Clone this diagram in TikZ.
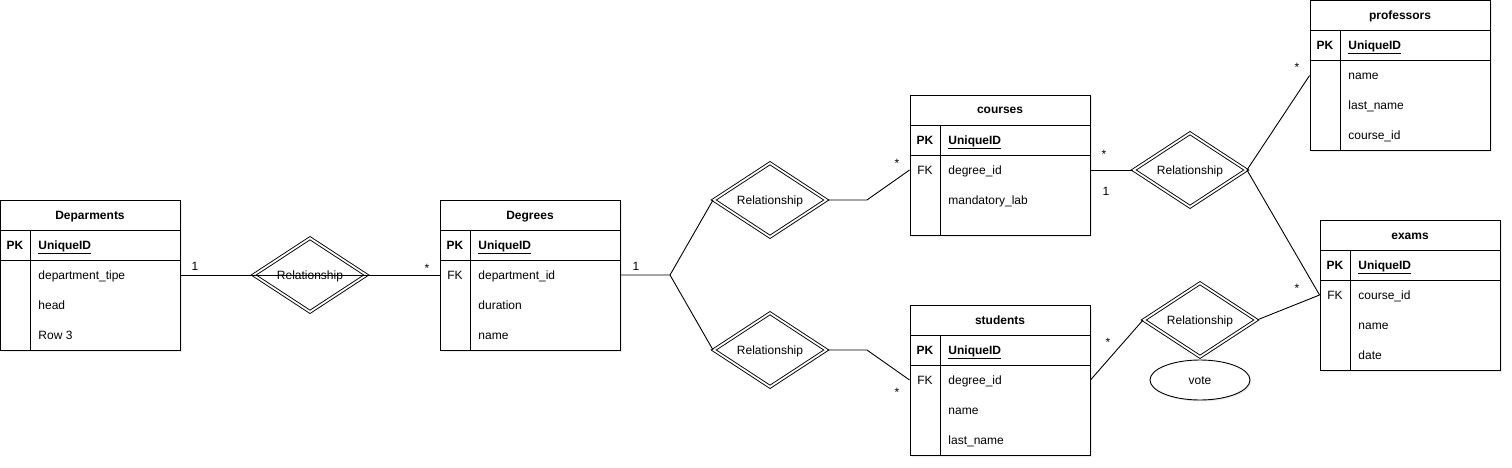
\documentclass[tikz,border=0pt]{standalone}
\usepackage{fontspec}
\setmainfont{Liberation Sans}
\usetikzlibrary{shapes.geometric,shadows}

\begin{document}
\begin{tikzpicture}[x=1pt,y=-1pt,line width=0.9pt,
    every node/.style={font=\fontsize{12}{14}\selectfont,text height=8pt,text depth=0pt},
    tcell/.style={draw,rectangle,fill=white,minimum width=180,minimum height=30,inner sep=0,
      drop shadow={shadow xshift=1.5pt,shadow yshift=-1.5pt,opacity=0.15}},
    ttitle/.style={tcell,font=\fontsize{12}{14}\selectfont\bfseries},
    keyl/.style={inner sep=0,font=\fontsize{12}{14}\selectfont\bfseries},
    attr/.style={anchor=west,inner sep=0},
    rel/.style={diamond,draw,double,double distance=1.8pt,fill=white,
      minimum width=113,minimum height=56,inner sep=0,
      drop shadow={shadow xshift=1.5pt,shadow yshift=-1.5pt,opacity=0.15}},
    card/.style={inner sep=0}]
    \useasboundingbox (0,0) rectangle (1512,468);
    % Deparments
    \node[ttitle] (dep) at (90,215) {Deparments};
    \node[tcell] (dep-pk) at (90,245) {};
    \node[tcell,minimum height=90] (dep-body) at (90,305) {};
    \draw (30,230) -- (30,350);
    \node[keyl] at (15,245) {PK};
    \node[keyl,attr] (dep-id) at (38,245) {\underline{UniqueID}};
    \node[attr] (dep-r1) at (38,275) {department\_tipe};
    \node[attr] (dep-r2) at (38,305) {head};
    \node[attr] (dep-r3) at (38,335) {Row 3};
    % Degrees
    \node[ttitle] (deg) at (530,215) {Degrees};
    \node[tcell] (deg-pk) at (530,245) {};
    \node[tcell,minimum height=90] (deg-body) at (530,305) {};
    \draw (470,230) -- (470,350);
    \node[keyl] at (455,245) {PK};
    \node[keyl,attr] (deg-id) at (478,245) {\underline{UniqueID}};
    \node[keyl,font=\fontsize{12}{14}\selectfont] at (455,275) {FK};
    \node[attr] (deg-r1) at (478,275) {department\_id};
    \node[attr] (deg-r2) at (478,305) {duration};
    \node[attr] (deg-r3) at (478,335) {name};
    % courses
    \node[ttitle] (crs) at (1000,110) {courses};
    \node[tcell] (crs-pk) at (1000,140) {};
    \node[tcell,minimum height=80] (crs-body) at (1000,195) {};
    \draw (940,125) -- (940,235);
    \node[keyl] at (925,140) {PK};
    \node[keyl,attr] (crs-id) at (948,140) {\underline{UniqueID}};
    \node[keyl,font=\fontsize{12}{14}\selectfont] at (925,170) {FK};
    \node[attr] (crs-r1) at (948,170) {degree\_id};
    \node[attr] (crs-r2) at (948,200) {mandatory\_lab};
    % students
    \node[ttitle] (stu) at (1000,320) {students};
    \node[tcell] (stu-pk) at (1000,350) {};
    \node[tcell,minimum height=90] (stu-body) at (1000,410) {};
    \draw (940,335) -- (940,455);
    \node[keyl] at (925,350) {PK};
    \node[keyl,attr] (stu-id) at (948,350) {\underline{UniqueID}};
    \node[keyl,font=\fontsize{12}{14}\selectfont] at (925,380) {FK};
    \node[attr] (stu-r1) at (948,380) {degree\_id};
    \node[attr] (stu-r2) at (948,410) {name};
    \node[attr] (stu-r3) at (948,440) {last\_name};
    % professors
    \node[ttitle] (pro) at (1400,15.5) {professors};
    \node[tcell] (pro-pk) at (1400,45.5) {};
    \node[tcell,minimum height=90] (pro-body) at (1400,105.5) {};
    \draw (1340,30.5) -- (1340,150.5);
    \node[keyl] at (1325,45.5) {PK};
    \node[keyl,attr] (pro-id) at (1348,45.5) {\underline{UniqueID}};
    \node[attr] (pro-r1) at (1348,75.5) {name};
    \node[attr] (pro-r2) at (1348,105.5) {last\_name};
    \node[attr] (pro-r3) at (1348,135.5) {course\_id};
    % exams
    \node[ttitle] (exa) at (1410,235) {exams};
    \node[tcell] (exa-pk) at (1410,265) {};
    \node[tcell,minimum height=90] (exa-body) at (1410,325) {};
    \draw (1350,250) -- (1350,370);
    \node[keyl] at (1335,265) {PK};
    \node[keyl,attr] (exa-id) at (1358,265) {\underline{UniqueID}};
    \node[keyl,font=\fontsize{12}{14}\selectfont] at (1335,295) {FK};
    \node[attr] (exa-r1) at (1358,295) {course\_id};
    \node[attr] (exa-r2) at (1358,325) {name};
    \node[attr] (exa-r3) at (1358,355) {date};
    % relationships
    \node[rel] (rel-dd) at (310,275) {Relationship};
    \node[rel] (rel-dc) at (770,200) {Relationship};
    \node[rel] (rel-ds) at (770,350) {Relationship};
    \node[rel] (rel-ce) at (1190,170) {Relationship};
    \node[rel] (rel-se) at (1200,320) {Relationship};
    \node[draw,ellipse,fill=white,minimum width=100,minimum height=40,inner sep=0,
      drop shadow={shadow xshift=1.5pt,shadow yshift=-1.5pt,opacity=0.15}] (vote) at (1200,380) {vote};
    % connectors
    \draw (dep-body.east |- dep-r1) -- (deg-body.west |- deg-r1);
    \coordinate (fork) at (670,275);
    \draw (deg-body.east |- deg-r1) -- (fork) -- (rel-dc.west);
    \draw (fork) -- (rel-ds.west);
    \draw (rel-dc.east) -- ++(40,0) -- (crs-body.west |- crs-r1);
    \draw (rel-ds.east) -- ++(40,0) -- (stu-body.west |- stu-r1);
    \draw (crs-body.east |- crs-r1) -- (rel-ce.west);
    \draw (rel-ce.east) -- (pro-body.west |- pro-r1);
    \draw (rel-ce.east) -- (exa-body.west |- exa-r1);
    \draw (stu-body.east |- stu-r1) -- (rel-se.west);
    \draw (rel-se.east) -- (exa-body.west |- exa-r1);
    % cardinalities
    \node[card] (c1) at (195,266) {1};
    \node[card] (c2) at (427,268) {*};
    \node[card] (c3) at (636,266) {1};
    \node[card] (c4) at (897,163) {*};
    \node[card] (c5) at (897,392) {*};
    \node[card] (c6) at (1104,154) {*};
    \node[card] (c7) at (1106,191) {1};
    \node[card] (c8) at (1297,68) {*};
    \node[card] (c9) at (1297,288) {*};
    \node[card] (c10) at (1108,342) {*};
\end{tikzpicture}
\end{document}
